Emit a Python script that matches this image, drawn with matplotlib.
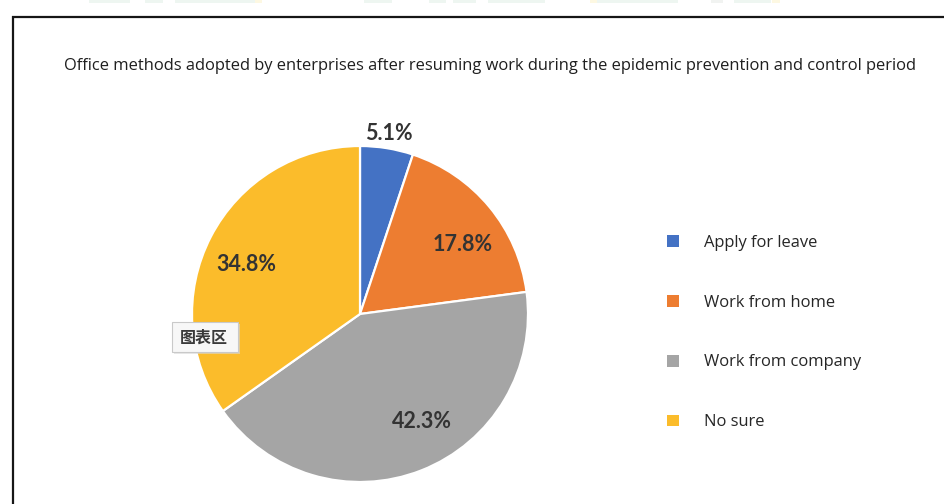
import matplotlib
matplotlib.use("Agg")
import numpy as np
import matplotlib.pyplot as plt
from matplotlib.lines import Line2D
from matplotlib.patches import Rectangle, FancyBboxPatch

# ---- data ----
categories = ["Apply for leave", "Work from home", "Work from company", "No sure"]
shares = [5.1, 17.8, 42.3, 34.8]
value_labels = ["5.1%", "17.8%", "42.3%", "34.8%"]
title_text = ("Office methods adopted by enterprises after resuming work "
              "during the epidemic prevention and control period")

# ---- style ----
colors = ["#4472C4", "#ED7D31", "#A5A5A5", "#FBBC2B"]
label_radius = [1.09, 0.74, 0.74, 0.74]
label_angle_shift = [0.0, -5.5, 8.5, 4.0]

W, H, DPI = 944, 504, 100
fig = plt.figure(figsize=(W / DPI, H / DPI), dpi=DPI)
fig.patch.set_facecolor("white")


def fx(px):
    return px / W


def fy(py):
    return 1 - py / H


# faint strip along the top edge
strip = [(89, 130, "#eef6f1"), (145, 163, "#eef6f1"), (175, 259, "#eef6f1"),
         (255, 262, "#fdf8e2"), (364, 392, "#eef6f1"), (429, 446, "#eef6f1"),
         (453, 476, "#eef6f1"), (488, 545, "#eef6f1"), (590, 597, "#fdf8e2"),
         (597, 678, "#eef6f1"), (711, 723, "#f1f3f1"), (734, 771, "#eef6f1"),
         (772, 780, "#fdf8e2")]
for x0, x1, c in strip:
    fig.add_artist(Rectangle((fx(x0), fy(3)), fx(x1 - x0), 3 / H,
                             transform=fig.transFigure, facecolor=c,
                             edgecolor="none", zorder=0))

# chart frame (top and left edges visible)
frame_kw = dict(transform=fig.transFigure, color="#161616", lw=1.6,
                solid_capstyle="butt")
fig.add_artist(Line2D([fx(12), 1.0], [fy(16.5), fy(16.5)], **frame_kw))
fig.add_artist(Line2D([fx(13), fx(13)], [fy(16), 0.0], **frame_kw))

# title
fig.text(fx(490), fy(66.5), title_text, ha="center", va="center",
         fontsize=11.85, color="#1f1f1f", family="Open Sans")

# pie
cx, cy, r = 360, 314, 168
ax = fig.add_axes([fx(cx - r), fy(cy + r), fx(2 * r), 2 * r / H])
wedges, _ = ax.pie(shares, colors=colors, startangle=90, counterclock=False,
                   radius=1.0,
                   wedgeprops=dict(edgecolor="white", linewidth=1.6))
ax.set_xlim(-1, 1)
ax.set_ylim(-1, 1)
ax.set_aspect("equal")
ax.axis("off")

for w, lab, dist, shift in zip(wedges, value_labels, label_radius,
                               label_angle_shift):
    ang = np.deg2rad((w.theta1 + w.theta2) / 2 + shift)
    ax.text(dist * np.cos(ang), dist * np.sin(ang), lab, ha="center",
            va="center", fontsize=15.5, fontweight="bold", color="#333333",
            family="Lato", clip_on=False)

# legend
leg = fig.legend(wedges, categories, loc="upper left",
                 bbox_to_anchor=(fx(652), fy(220)), frameon=False,
                 handlelength=0.72, handleheight=0.72, handletextpad=1.55,
                 labelspacing=2.65, prop=dict(family="Open Sans", size=11.9))
for t in leg.get_texts():
    t.set_color("#262626")
for h in leg.legend_handles:
    h.set_edgecolor("none")

# hover tag over the chart area
fig.add_artist(FancyBboxPatch((fx(174), fy(354)), fx(66), 30 / H,
                              boxstyle="square,pad=0",
                              transform=fig.transFigure,
                              facecolor="#d9d9d9", edgecolor="none",
                              alpha=0.6, zorder=4))
fig.add_artist(FancyBboxPatch((fx(172), fy(352)), fx(66), 30 / H,
                              boxstyle="square,pad=0",
                              transform=fig.transFigure,
                              facecolor="#f7f7f7", edgecolor="#c9c9c9",
                              lw=0.8, zorder=5))
fig.text(fx(204), fy(338), "图表区", ha="center", va="center", fontsize=11.5,
         fontweight="bold", color="#3a3a3a",
         family=["Noto Sans CJK SC", "DejaVu Sans"], zorder=6)

fig.savefig("out.png", dpi=DPI, facecolor="white")
